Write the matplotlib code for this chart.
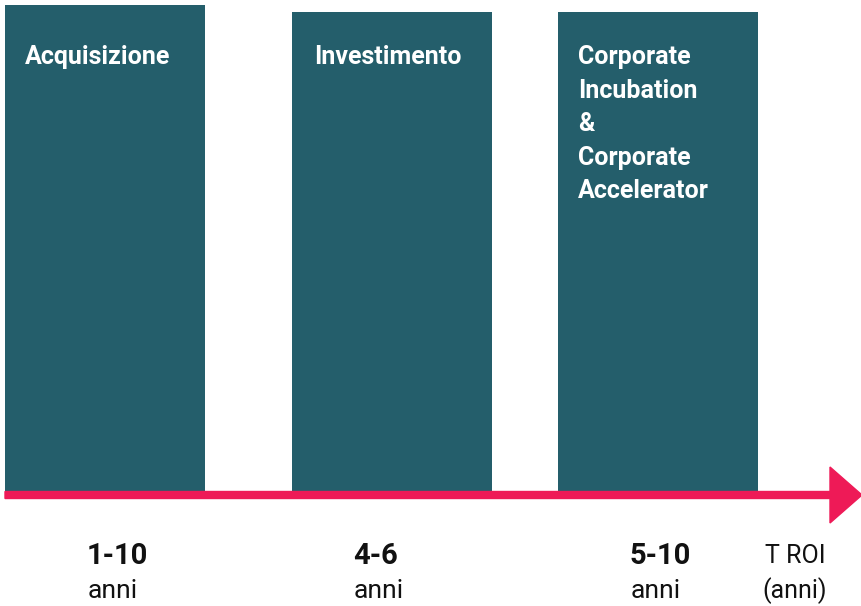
import matplotlib.pyplot as plt

categories = ["Acquisizione", "Investimento",
              "Corporate\nIncubation\n&\nCorporate\nAccelerator"]
roi_years = ["1-10", "4-6", "5-10"]
bar_heights = [493, 486, 486]   # relative bar heights

bar_color = "#245e6b"
red = "#ee1a57"

fig = plt.figure(figsize=(8.62, 6.06), dpi=100)
ax = fig.add_axes([0, 0, 1, 1])
ax.set_xlim(0, 862)
ax.set_ylim(606, 0)
ax.axis("off")

base = 498
lefts = [5, 292, 558]
ax.bar(lefts, bar_heights, width=200, bottom=[base - h for h in bar_heights],
       align="edge", color=bar_color, zorder=1)

# timeline arrow
ax.arrow(5, 495, 825, 0, width=7, head_width=56, head_length=32,
         color=red, zorder=2, length_includes_head=False)

for x, label in zip([25, 314, 578], categories):
    ax.text(x, 45, label, color="white", fontsize=18, fontweight="bold",
            family="Roboto", va="top", ha="left", linespacing=1.5)

label_x = [87, 353, 630]
for x, yrs in zip(label_x, roi_years):
    ax.text(x, 556, yrs, fontsize=21, fontweight="bold", family="Roboto",
            va="center", ha="left", color="#111111")
    ax.text(x + 1, 591, "anni", fontsize=19, family="Roboto",
            va="center", ha="left", color="#111111")

ax.text(765, 556, "T ROI", fontsize=18, family="Roboto", va="center",
        ha="left", color="#111111")
ax.text(762, 591, "(anni)", fontsize=18, family="Roboto", va="center",
        ha="left", color="#111111")

fig.savefig("out.png", dpi=100)
